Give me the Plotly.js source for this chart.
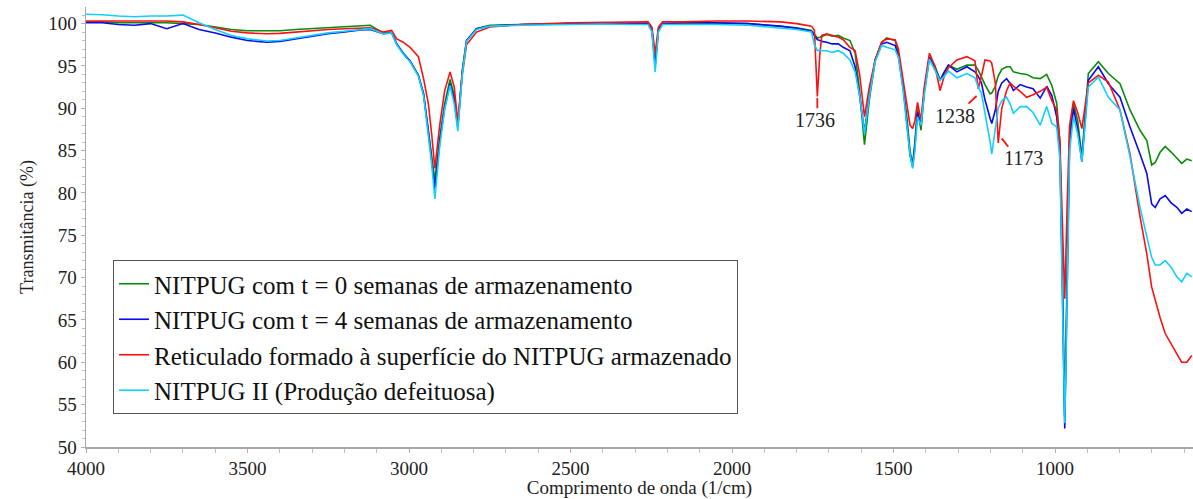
<!DOCTYPE html>
<html>
<head>
<meta charset="utf-8">
<script src="https://cdn.plot.ly/plotly-3.0.1.min.js"></script>
<style>
  html, body { margin: 0; padding: 0; background: #fff; }
  #chart { width: 1193px; height: 499px; }
</style>
</head>
<body>
<div id="chart"></div>
<script>
// FTIR transmittance spectra (wavenumber in 1/cm, transmittance in %)
const wavenumber = [
  4000, 3950, 3900, 3850, 3800, 3750, 3700, 3650, 3600, 3550,
  3500, 3440, 3400, 3350, 3300, 3250, 3200, 3150, 3120, 3080,
  3054, 3038, 3018, 2997, 2971, 2955, 2940, 2930, 2920, 2905,
  2890, 2873, 2860, 2849, 2835, 2822, 2791, 2750, 2650, 2500,
  2400, 2300, 2260, 2248, 2238, 2228, 2215, 2150, 2050, 1950,
  1850, 1800, 1754, 1745, 1736, 1728, 1722, 1707, 1690, 1671,
  1656, 1635, 1619, 1605, 1590, 1575, 1557, 1537, 1521, 1495,
  1485, 1470, 1459, 1449, 1441, 1434, 1426, 1415, 1405, 1389,
  1372, 1356, 1343, 1330, 1304, 1273, 1248, 1238, 1228, 1217,
  1201, 1196, 1185, 1176, 1165, 1150, 1139, 1129, 1108, 1088,
  1068, 1046, 1026, 1010, 995, 985, 977, 970, 963, 955,
  943, 930, 917, 905, 897, 866, 835, 799, 768, 737,
  716, 701, 690, 675, 659, 640, 623, 608, 592, 577
];

const nitpugT0 = [
  100.2, 100.2, 100.1, 100.1, 100.1, 100.1, 100.0, 99.9, 99.6, 99.3,
  99.15, 99.1, 99.15, 99.3, 99.4, 99.5, 99.6, 99.75, 99.8, 98.9,
  99.0, 97.6, 96.5, 95.6, 93.9, 91.7, 87.4, 84.5, 81.5, 86.5,
  90.5, 93.4, 91.5, 87.8, 94.5, 98.0, 99.4, 99.8, 99.9, 100.0,
  100.05, 100.0, 100.0, 99.3, 95.3, 99.3, 100.0, 100.0, 100.05, 100.0,
  99.7, 99.5, 99.2, 98.8, 98.3, 98.4, 98.5, 98.7, 98.5, 98.6,
  98.3, 98.0, 96.5, 92.0, 85.7, 91.0, 95.7, 97.8, 98.3, 98.0,
  96.5, 92.5, 89.0, 85.0, 83.4, 86.0, 90.0, 87.4, 92.0, 96.0,
  95.0, 93.3, 94.2, 95.1, 94.6, 95.1, 95.1, 94.5, 93.7, 92.8,
  91.7, 91.8, 92.6, 93.8, 94.6, 94.9, 94.9, 94.3, 94.1, 94.0,
  93.6, 93.5, 94.0, 92.7, 90.6, 86.0, 70.0, 53.5, 70.0, 87.0,
  90.6, 88.5, 84.3, 90.0, 94.1, 95.5, 94.1, 92.9, 89.8, 87.4,
  86.2, 83.3, 83.6, 84.8, 85.5, 84.8, 84.1, 83.5, 84.0, 83.8
];

const nitpugT4 = [
  100.1, 100.1, 99.9, 99.8, 100.0, 99.4, 100.0, 99.3, 98.9, 98.4,
  98.0, 97.8, 97.9, 98.2, 98.5, 98.8, 99.0, 99.25, 99.3, 98.8,
  98.9, 97.6, 96.5, 95.6, 93.9, 91.7, 87.2, 84.0, 80.5, 86.0,
  90.0, 92.9, 91.0, 87.8, 94.3, 98.0, 99.4, 99.7, 99.9, 100.0,
  100.0, 100.0, 100.0, 99.2, 95.0, 99.2, 100.0, 100.1, 100.1, 100.0,
  99.7, 99.45, 99.1, 98.6, 98.1, 98.0, 97.9, 97.8, 97.6, 97.6,
  97.2, 96.8, 94.9, 91.5, 87.2, 91.5, 95.7, 97.6, 97.8, 97.4,
  96.2, 92.5, 88.5, 84.5, 83.1, 85.5, 89.5, 88.0, 92.0, 96.0,
  94.8, 93.3, 94.3, 95.1, 94.3, 94.9, 94.3, 93.8, 93.0, 91.0,
  88.8, 88.2, 89.8, 92.0, 93.0, 93.5, 92.9, 92.1, 92.8, 92.5,
  92.3, 91.2, 92.6, 91.5, 89.0, 85.0, 68.0, 52.2, 68.0, 86.0,
  90.0, 87.5, 83.7, 89.5, 93.3, 94.9, 92.9, 91.3, 87.8, 84.6,
  82.3, 78.7, 78.3, 79.3, 79.7, 78.8, 78.3, 77.6, 78.1, 77.8
];

const reticulado = [
  100.3, 100.3, 100.25, 100.3, 100.25, 100.3, 100.2, 99.9, 99.5, 99.1,
  98.9, 98.8, 98.85, 99.0, 99.2, 99.3, 99.4, 99.5, 99.5, 99.0,
  99.2, 98.2, 97.8, 97.2, 96.1, 93.5, 90.5, 87.0, 82.9, 88.0,
  92.0, 94.3, 92.5, 88.4, 94.0, 97.5, 99.0, 99.6, 99.9, 100.1,
  100.15, 100.2, 100.2, 99.6, 96.5, 99.6, 100.2, 100.2, 100.3, 100.3,
  100.2, 100.0, 99.7, 99.2, 91.4, 96.5, 98.6, 98.8, 98.6, 98.4,
  98.1, 97.2, 96.8, 94.0, 89.0, 92.5, 95.7, 97.8, 98.2, 98.1,
  97.0, 93.1, 90.5, 88.0, 87.6, 88.5, 90.7, 88.6, 92.5, 96.5,
  95.0, 92.1, 93.8, 94.8, 95.7, 96.1, 95.6, 92.3, 93.8, 95.7,
  95.6, 95.3, 93.0, 85.9, 90.0, 92.1, 93.0, 92.6, 92.0, 91.3,
  91.6, 92.0, 92.5, 90.9, 89.8, 86.0, 76.0, 67.5, 78.0, 88.0,
  90.9, 89.5, 87.6, 91.0, 93.0, 93.9, 93.1, 89.8, 84.6, 77.2,
  72.8, 68.9, 67.3, 65.3, 63.4, 62.2, 61.0, 60.0, 60.0, 60.8
];

const nitpugII = [
  101.1, 101.05, 100.9, 100.8, 100.9, 100.9, 101.0, 100.1, 99.3, 98.6,
  98.2, 97.95, 98.0, 98.3, 98.6, 98.9, 99.1, 99.3, 99.4, 98.8,
  98.9, 97.5, 96.4, 95.5, 93.8, 91.5, 87.0, 83.5, 79.3, 85.5,
  89.8, 92.7, 90.5, 87.3, 94.0, 97.9, 99.3, 99.7, 99.8, 99.9,
  99.95, 99.9, 99.9, 99.0, 94.3, 99.0, 99.9, 99.9, 99.9, 99.8,
  99.5, 99.3, 99.0, 97.5, 96.8, 96.9, 96.8, 96.8, 96.6, 96.8,
  96.5, 95.7, 94.3, 91.5, 87.0, 91.3, 95.5, 97.4, 97.2, 96.9,
  96.0, 92.0, 88.0, 84.6, 82.9, 85.0, 89.0, 88.0, 91.5, 95.8,
  94.5, 93.3, 93.8, 94.4, 93.6, 94.1, 93.6, 92.5, 91.8, 89.5,
  86.0, 84.6, 87.5, 90.0, 90.9, 91.3, 90.5, 89.4, 90.2, 90.2,
  89.5, 88.0, 90.2, 88.2, 87.8, 84.0, 67.0, 52.8, 67.0, 85.0,
  89.0, 87.0, 83.7, 89.0, 92.5, 93.7, 91.3, 89.8, 84.3, 78.3,
  74.8, 72.4, 71.5, 71.5, 72.0, 71.2, 70.1, 69.5, 70.5, 70.1
];

const seriesNames = [
  'NITPUG com t = 0 semanas de armazenamento',
  'NITPUG com t = 4 semanas de armazenamento',
  'Reticulado formado à superfície do NITPUG armazenado',
  'NITPUG II (Produção defeituosa)'
];
const seriesColors = ['#0a8a0a', '#0a0aee', '#ff1010', '#10d0ff'];
const seriesValues = [nitpugT0, nitpugT4, reticulado, nitpugII];

// Marked absorption bands of the crosslinked surface film
const bandLabels = ['1736', '1238', '1173'];

const serif = '"Liberation Serif", "Times New Roman", serif';

const traces = seriesValues.map((vals, i) => ({
  type: 'scatter',
  mode: 'lines',
  x: wavenumber,
  y: vals,
  name: seriesNames[i],
  line: { color: seriesColors[i], width: 1.6 },
  hoverinfo: 'x+y+name'
}));

// label placement (data coordinates) and short leader lines for each band
const labelPos = [
  { x: 1743, y: 88.6, line: [1736, 91.2, 1736, 90.0] },
  { x: 1310, y: 89.1, line: [1268, 90.55, 1243, 91.45] },
  { x: 1098, y: 84.1, line: [1165, 86.45, 1145, 85.45] }
];

const annotations = bandLabels.map((t, i) => ({
  x: labelPos[i].x, y: labelPos[i].y, xref: 'x', yref: 'y',
  text: t, showarrow: false,
  font: { family: serif, size: 20, color: '#222' }
}));

const shapes = labelPos.map(p => ({
  type: 'line', xref: 'x', yref: 'y',
  x0: p.line[0], y0: p.line[1], x1: p.line[2], y1: p.line[3],
  line: { color: '#ff1010', width: 1.8 }
}));

const axisCommon = {
  showgrid: false,
  zeroline: false,
  showline: true,
  linecolor: '#a8a8a8',
  linewidth: 1.5,
  ticks: 'outside',
  ticklen: 4,
  tickwidth: 1,
  tickcolor: '#b0b0b0',
  tickfont: { family: serif, size: 19, color: '#222' }
};

const layout = {
  width: 1193,
  height: 499,
  margin: { l: 86, r: 0, t: 7, b: 52 },
  paper_bgcolor: '#fff',
  plot_bgcolor: '#fff',
  font: { family: serif },
  showlegend: true,
  xaxis: Object.assign({}, axisCommon, {
    range: [4000, 573],
    tick0: 0,
    dtick: 500,
    ticklabelstandoff: 0,
    minor: { dtick: 100, ticks: 'outside', ticklen: 4, tickcolor: '#c0c0c0' },
    title: { text: 'Comprimento de onda (1/cm)', font: { family: serif, size: 19, color: '#222' }, standoff: 1 }
  }),
  yaxis: Object.assign({}, axisCommon, {
    range: [50, 101.96],
    tick0: 0,
    dtick: 5,
    minor: { dtick: 1, ticks: 'outside', ticklen: 3, tickcolor: '#c0c0c0' },
    title: { text: 'Transmitância (%)', font: { family: serif, size: 18, color: '#222' }, standoff: 10 }
  }),
  legend: {
    x: 0.0244, y: 0.425, xanchor: 'left', yanchor: 'top',
    bgcolor: '#fff',
    bordercolor: '#555',
    borderwidth: 1,
    entrywidthmode: 'pixels',
    entrywidth: 680,
    font: { family: serif, size: 25, color: '#111' }
  },
  annotations: annotations,
  shapes: shapes
};

Plotly.newPlot('chart', traces, layout, { displayModeBar: false, staticPlot: true });
</script>
</body>
</html>
